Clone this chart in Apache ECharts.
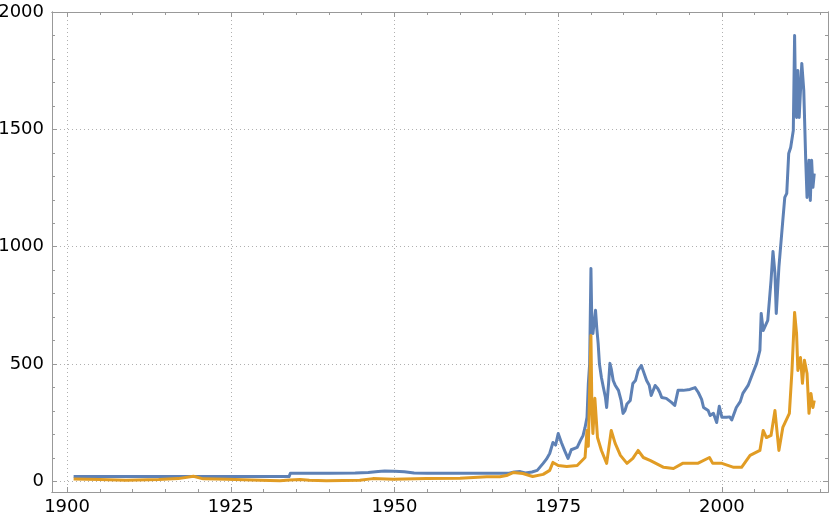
<!DOCTYPE html>
<html>
<head>
<meta charset="utf-8">
<script src="https://cdn.jsdelivr.net/npm/echarts@6/dist/echarts.min.js"></script>
<style>
html,body{margin:0;padding:0;background:#fff;}
#chart{width:830px;height:520px;}
</style>
</head>
<body>
<div id="chart"></div>
<script>
// ---- Data ----
const blueYears = [1901,1933.9,1934.1,1940,1944,1946,1947.5,1948.5,1950,1951.5,1953,1955,1960,1965,1967.5,1968.3,1969.2,1970.0,1971.0,1971.8,1972.7,1973.2,1973.7,1974.2,1974.6,1975.0,1975.5,1976.0,1976.5,1977.0,1977.9,1978.4,1978.8,1979.1,1979.4,1979.6,1979.8,1980.0,1980.15,1980.3,1980.5,1980.7,1980.9,1981.1,1981.3,1981.6,1981.9,1982.2,1982.4,1982.7,1982.9,1983.1,1983.4,1983.7,1984.2,1984.6,1984.9,1985.2,1985.5,1986.0,1986.4,1986.8,1987.2,1987.7,1988.0,1988.5,1988.9,1989.2,1989.8,1990.2,1990.5,1990.8,1991.5,1992.3,1992.8,1993.3,1994.1,1995.1,1995.9,1996.4,1996.9,1997.2,1997.9,1998.2,1998.7,1999.2,1999.6,2000.0,2000.7,2001.2,2001.5,2002.2,2002.8,2003.2,2004.0,2004.7,2005.3,2005.8,2006.0,2006.3,2007.0,2007.5,2007.8,2008.1,2008.3,2008.7,2009.3,2009.6,2009.9,2010.2,2010.5,2010.9,2011.1,2011.25,2011.4,2011.6,2011.8,2012.2,2012.5,2012.8,2013.0,2013.3,2013.5,2013.7,2013.9,2014.1];
const blueValues = [20.67,20.67,35,35,36,38,42,44,43,41,36,35,35,35,35,40,42,36,40,47,77,95,119,166,155,204,165,130,98,135,145,175,196,230,273,417,500,907,650,630,680,729,650,588,500,443,400,360,315,420,503,480,430,410,388,345,290,302,330,345,417,430,473,494,470,430,410,366,409,396,380,358,354,337,324,388,388,392,400,379,350,315,302,281,290,251,320,273,273,275,262,315,340,375,409,460,503,558,716,643,686,856,980,886,716,912,1112,1210,1227,1397,1423,1495,1900,1620,1551,1751,1551,1781,1666,1368,1210,1368,1197,1368,1253,1312];

const orangeYears = [1901,1905,1909,1914,1917,1919.3,1920.8,1924.4,1929.5,1932.5,1934,1935.6,1937,1939.6,1944.7,1946.7,1949.8,1954.9,1960,1964.1,1966.1,1967.1,1968.1,1969.6,1971.1,1972.7,1973.7,1974.2,1975.0,1976.3,1977.9,1979.1,1979.4,1979.6,1980.0,1980.15,1980.3,1980.6,1981.0,1981.6,1982.4,1983.1,1983.7,1984.5,1985.5,1986.4,1987.2,1988.0,1989.1,1991.1,1992.6,1994.0,1996.3,1998.1,1998.6,2000.0,2001.8,2003.0,2004.3,2005.8,2006.3,2006.8,2007.5,2008.1,2008.7,2009.3,2010.3,2010.7,2011.1,2011.4,2011.6,2012.0,2012.3,2012.6,2013.0,2013.3,2013.6,2013.9,2014.1];
const orangeValues = [10.7,8,5,8,12,22,11,9,5,2.5,6,8,5,2.5,5,12,9,12,13.6,20,20,25,38,34,21,30,47,81,68,64,68,102,217,150,622,300,204,354,187,132,77,217,162,111,77,98,132,102,89,60,55,77,77,102,77,77,60,60,111,132,217,187,196,302,132,230,290,473,720,630,473,528,418,516,460,290,375,315,345];

const xMajorTicks = [1900,1925,1950,1975,2000];
const xMinorTicks = [1900,1905,1910,1915,1920,1925,1930,1935,1940,1945,1950,1955,1960,1965,1970,1975,1980,1985,1990,1995,2000,2005,2010,2015];
const yMajorTicks = [0,500,1000,1500,2000];
const yMinorTicks = [0,100,200,300,400,500,600,700,800,900,1000,1100,1200,1300,1400,1500,1600,1700,1800,1900,2000];

// ---- Build ----
const blueData = blueYears.map((x,i)=>[x,blueValues[i]]);
const orangeData = orangeYears.map((x,i)=>[x,orangeValues[i]]);

const XMIN = 1897.7, XMAX = 2016.2, YMIN = -45, YMAX = 2000;
const frameColor = '#999999';
const labelStyle = {color:'#000000', fontSize:18, fontFamily:'DejaVu Sans'};

function xAx(pos, ticks, len, labels, split){
  return {
    type:'value', min:XMIN, max:XMAX, position:pos,
    axisLine:{show:true, onZero:false, lineStyle:{color:frameColor, width:1}},
    axisTick:{show:true, inside:true, length:len, customValues:ticks, lineStyle:{color:frameColor}},
    axisLabel:labels ? Object.assign({show:true, margin:6, customValues:ticks, formatter:v=>String(v)}, labelStyle) : {show:false},
    splitLine:{show:!!split, lineStyle:{color:'#b0b0b0', type:[1,3], width:1}},
    minorTick:{show:false}
  };
}
function yAx(pos, ticks, len, labels, split){
  return {
    type:'value', min:YMIN, max:YMAX, position:pos,
    axisLine:{show:true, onZero:false, lineStyle:{color:frameColor, width:1}},
    axisTick:{show:true, inside:true, length:len, customValues:ticks, lineStyle:{color:frameColor}},
    axisLabel:labels ? Object.assign({show:true, margin:8, customValues:ticks, formatter:v=>String(v)}, labelStyle) : {show:false},
    splitLine:{show:!!split, lineStyle:{color:'#b0b0b0', type:[1,3], width:1}},
    minorTick:{show:false}
  };
}

const chart = echarts.init(document.getElementById('chart'), null, {renderer:'canvas'});
chart.setOption({
  animation:false,
  backgroundColor:'#ffffff',
  grid:{left:52, right:2, top:12, bottom:28, containLabel:false, outerBoundsMode:'none', show:false},
  xAxis:[
    xAx('bottom', xMajorTicks, 5, true, true),
    xAx('bottom', xMinorTicks, 3, false, false),
    xAx('top', xMajorTicks, 5, false, false),
    xAx('top', xMinorTicks, 3, false, false)
  ],
  yAxis:[
    yAx('left', yMajorTicks, 5, true, true),
    yAx('left', yMinorTicks, 3, false, false),
    yAx('right', yMajorTicks, 5, false, false),
    yAx('right', yMinorTicks, 3, false, false)
  ],
  series:[
    {type:'line', xAxisIndex:0, yAxisIndex:0, data:blueData, showSymbol:false, symbol:'none',
     lineStyle:{color:'#5E81B5', width:3, join:'round'}, itemStyle:{color:'#5E81B5'}, z:2},
    {type:'line', xAxisIndex:0, yAxisIndex:0, data:orangeData, showSymbol:false, symbol:'none',
     lineStyle:{color:'#E19C24', width:3, join:'round'}, itemStyle:{color:'#E19C24'}, z:3}
  ]
});
</script>
</body>
</html>
